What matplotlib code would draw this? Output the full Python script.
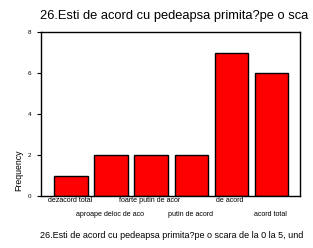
import numpy as np
import matplotlib.pyplot as plt

plt.rcParams['font.family'] = ['Liberation Sans', 'DejaVu Sans']

# categorii si frecvente
categories = ['dezacord total', 'aproape deloc de aco', 'foarte putin de acor',
              'putin de acord', 'de acord', 'acord total']
counts = [1, 2, 2, 2, 7, 6]
yticks = [0, 2, 4, 6, 8]

title = '26.Esti de acord cu pedeapsa primita?pe o sca'
xlabel = '26.Esti de acord cu pedeapsa primita?pe o scara de la 0 la 5, und'

fig = plt.figure(figsize=(3.13, 2.48), dpi=100)
W, H = 313, 248
ax = fig.add_axes([41 / W, 1 - 196 / H, 259 / W, 164 / H])

x = np.arange(len(categories))
ax.bar(x, counts, width=0.83, color='#ff0000', edgecolor='black', linewidth=1.0)

ax.set_xlim(-0.75, 5.72)
ax.set_ylim(0, 8)
ax.set_yticks(yticks)
ax.set_yticklabels([str(v) for v in yticks], fontsize=4.5)
ax.tick_params(axis='y', length=3, width=0.8, pad=4)
ax.set_xticks([])
for s in ax.spines.values():
    s.set_linewidth(1.0)

# etichete alternate pe doua randuri
for i, lab in enumerate(categories):
    yy = 200.5 if i % 2 == 0 else 214
    fig.text((70 + 40 * i) / W, 1 - yy / H, lab, fontsize=5.1,
             ha='center', va='center')

fig.text(40 / W, 1 - 16 / H, title, fontsize=9.3, ha='left', va='center')
fig.text(40 / W, 1 - 236 / H, xlabel, fontsize=6.5, ha='left', va='center')
fig.text(19 / W, 1 - 170 / H, 'Frequency', fontsize=6.3, rotation=90,
         ha='center', va='center')

plt.savefig('out.png', dpi=100)
